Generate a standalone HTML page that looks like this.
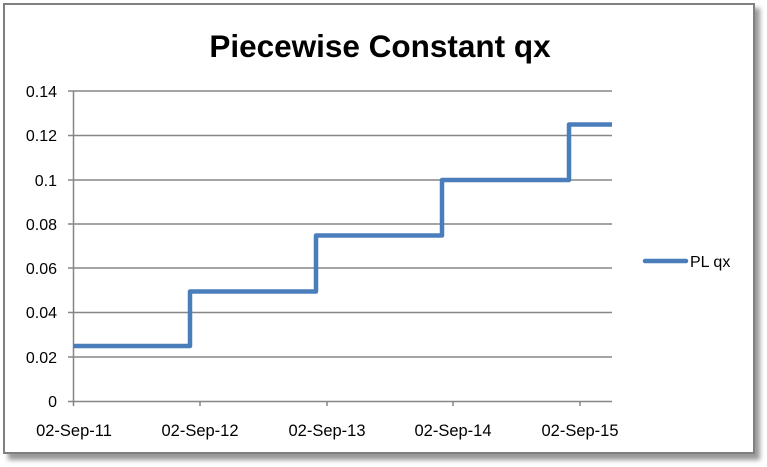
<!DOCTYPE html>
<html><head><style>
html,body{margin:0;padding:0;background:#fff;}
</style></head><body>
<svg width="767" height="467" xmlns="http://www.w3.org/2000/svg" style="display:block">
<defs><filter id="s" x="-5%" y="-5%" width="110%" height="115%"><feGaussianBlur stdDeviation="2.5"/></filter></defs>
<rect x="8" y="8" width="752" height="452" fill="#999" filter="url(#s)"/>
<rect x="4" y="4" width="750" height="449" fill="#fff" stroke="#808080" stroke-width="2"/>
<text x="380" y="57" text-anchor="middle" font-family="Liberation Sans, sans-serif" font-weight="bold" font-size="31.5" fill="#000">Piecewise Constant qx</text>
<g stroke="#868686" stroke-width="1.5">
<line x1="68" y1="91" x2="612" y2="91"/>
<line x1="68" y1="135.5" x2="612" y2="135.5"/>
<line x1="68" y1="180" x2="612" y2="180"/>
<line x1="68" y1="224" x2="612" y2="224"/>
<line x1="68" y1="268" x2="612" y2="268"/>
<line x1="68" y1="312.5" x2="612" y2="312.5"/>
<line x1="68" y1="357" x2="612" y2="357"/>
<line x1="68" y1="401.5" x2="612" y2="401.5"/>
<line x1="73.5" y1="91" x2="73.5" y2="406"/>
<line x1="200" y1="401" x2="200" y2="406"/>
<line x1="327" y1="401" x2="327" y2="406"/>
<line x1="453" y1="401" x2="453" y2="406"/>
<line x1="580" y1="401" x2="580" y2="406"/>
</g>
<g font-family="Liberation Sans, sans-serif" font-size="16" fill="#000" text-anchor="end">
<text x="57" y="97">0.14</text><text x="57" y="141">0.12</text><text x="57" y="186">0.1</text>
<text x="57" y="230">0.08</text><text x="57" y="274">0.06</text><text x="57" y="318">0.04</text>
<text x="57" y="363">0.02</text><text x="57" y="407">0</text>
</g>
<g font-family="Liberation Sans, sans-serif" font-size="16.5" fill="#000" text-anchor="middle">
<text x="74" y="436">02-Sep-11</text><text x="200" y="436">02-Sep-12</text><text x="327" y="436">02-Sep-13</text>
<text x="453" y="436">02-Sep-14</text><text x="580" y="436">02-Sep-15</text>
</g>
<polyline fill="none" stroke="#4a7ebb" stroke-width="4.5" stroke-linejoin="round" points="73,346 190,346 190,291.5 316,291.5 316,235.5 442,235.5 442,180 569,180 569,124.5 612,124.5"/>
<line x1="645" y1="261" x2="686" y2="261" stroke="#4a7ebb" stroke-width="4.5" stroke-linecap="round"/>
<text x="690" y="267" font-family="Liberation Sans, sans-serif" font-size="16" fill="#000">PL qx</text>
</svg>
</body></html>
